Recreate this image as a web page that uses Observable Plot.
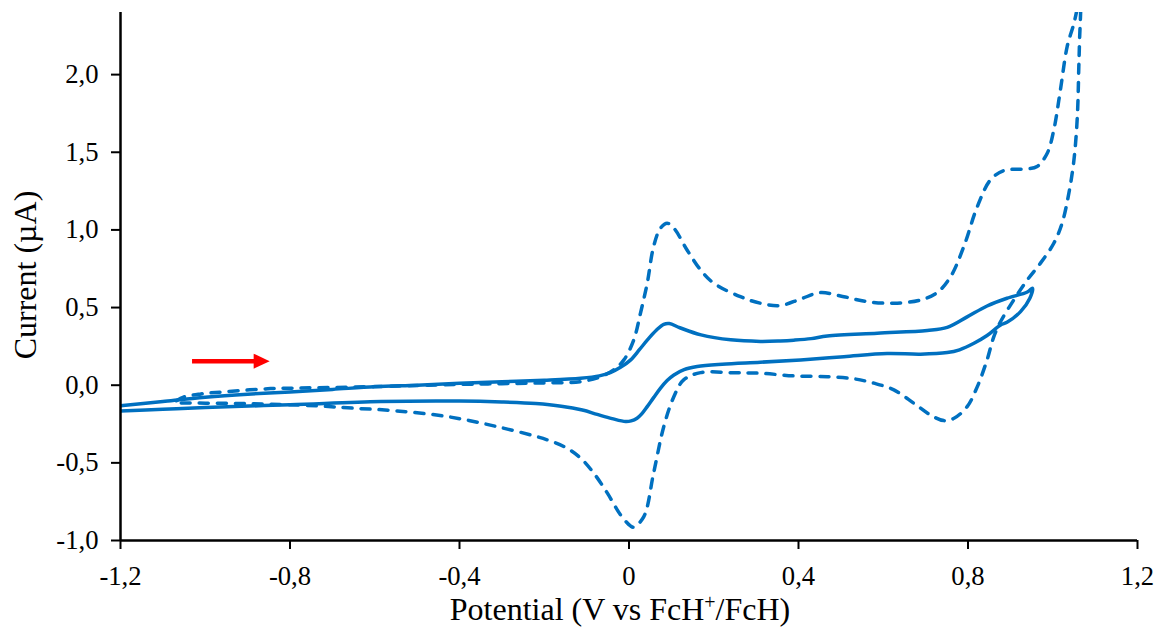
<!DOCTYPE html>
<html>
<head>
<meta charset="utf-8">
<script src="https://cdn.jsdelivr.net/npm/d3@7"></script>
<script src="https://cdn.jsdelivr.net/npm/@observablehq/plot@0.6"></script>
<style>
html, body { margin: 0; padding: 0; background: #ffffff; }
#chart { width: 1157px; height: 628px; }
</style>
</head>
<body>
<div id="chart"></div>
<script>
// ---- Data ----
// Solid CV (forward scan then reverse scan), potential in V vs FcH+/FcH, current in µA
const solidPotential = [
  -1.20, -1.10, -1.00, -0.90, -0.80, -0.70, -0.60, -0.50, -0.40, -0.30, -0.20, -0.114, -0.07, -0.044, -0.02,
  0.004, 0.025, 0.043, 0.065, 0.082, 0.095, 0.12, 0.17, 0.24, 0.31, 0.357, 0.389, 0.43, 0.468, 0.586, 0.704,
  0.751, 0.798, 0.845, 0.892, 0.94, 0.952,
  0.946, 0.924, 0.892, 0.877, 0.845, 0.814, 0.78, 0.751, 0.688, 0.609, 0.507, 0.405, 0.31, 0.22, 0.161, 0.13,
  0.106, 0.09, 0.074, 0.058, 0.043, 0.03, 0.019, 0.005, -0.008, -0.04, -0.075, -0.11, -0.16, -0.22, -0.30,
  -0.40, -0.586, -0.80, -1.00, -1.10, -1.20
];
const solidCurrent = [
  -0.133, -0.105, -0.078, -0.058, -0.043, -0.027, -0.010, 0.000, 0.012, 0.022, 0.032, 0.045, 0.060, 0.081, 0.115,
  0.163, 0.230, 0.290, 0.355, 0.392, 0.397, 0.370, 0.324, 0.292, 0.282, 0.285, 0.290, 0.300, 0.317, 0.335, 0.352,
  0.372, 0.440, 0.510, 0.560, 0.600, 0.625,
  0.560, 0.474, 0.405, 0.388, 0.320, 0.270, 0.228, 0.210, 0.200, 0.204, 0.184, 0.163, 0.148, 0.135, 0.120, 0.100,
  0.066, 0.030, -0.020, -0.080, -0.138, -0.185, -0.213, -0.230, -0.234, -0.215, -0.188, -0.160, -0.135, -0.118, -0.108,
  -0.102, -0.105, -0.126, -0.143, -0.155, -0.166
];

// Dashed CV (forward scan then reverse scan)
const dashedPotential = [
  -1.068, -1.05, -1.01, -0.948, -0.846, -0.775, -0.65, -0.539, -0.40, -0.30, -0.20, -0.114, -0.067, -0.036, -0.012,
  0.011, 0.027, 0.043, 0.058, 0.074, 0.09, 0.106, 0.137, 0.169, 0.20, 0.263, 0.31, 0.357, 0.405, 0.451, 0.507,
  0.562, 0.625, 0.688, 0.727, 0.759, 0.79, 0.822, 0.853, 0.885, 0.94, 0.963, 0.987, 1.0025, 1.018, 1.034, 1.05,
  1.065,
  1.063, 1.0615, 1.058, 1.05, 1.038, 1.022, 1.0025, 0.971, 0.94, 0.908, 0.877, 0.861, 0.845, 0.822, 0.798, 0.767,
  0.743, 0.711, 0.672, 0.625, 0.578, 0.531, 0.468, 0.389, 0.31, 0.25, 0.169, 0.129, 0.106, 0.082, 0.058, 0.035,
  0.011, 0.0035, -0.020, -0.051, -0.083, -0.114, -0.146, -0.193, -0.311, -0.429, -0.55, -0.65, -0.736, -0.846, -0.948, -1.07
];
const dashedCurrent = [
  -0.100, -0.075, -0.056, -0.041, -0.022, -0.018, -0.012, -0.005, 0.005, 0.010, 0.015, 0.023, 0.055, 0.099, 0.163,
  0.290, 0.463, 0.657, 0.892, 1.010, 1.043, 1.011, 0.871, 0.742, 0.657, 0.570, 0.528, 0.513, 0.555, 0.596, 0.570,
  0.538, 0.528, 0.549, 0.596, 0.699, 0.892, 1.150, 1.322, 1.382, 1.393, 1.408, 1.494, 1.644, 1.900, 2.180, 2.330,
  2.500,
  2.200, 2.050, 1.730, 1.450, 1.236, 1.043, 0.914, 0.786, 0.678, 0.549, 0.410, 0.313, 0.163, -0.009, -0.138, -0.213,
  -0.228, -0.191, -0.116, -0.030, 0.013, 0.041, 0.055, 0.060, 0.077, 0.080, 0.081, 0.034, -0.073, -0.267, -0.567, -0.846,
  -0.914, -0.906, -0.835, -0.695, -0.567, -0.470, -0.406, -0.352, -0.267, -0.202, -0.165, -0.148, -0.133, -0.122, -0.117, -0.114
];

// Scan-direction arrow (annotation)
const arrowStartPotential = [-1.03];
const arrowHeadBasePotential = [-0.866];
const arrowTipPotential = [-0.848];
const arrowCurrent = [0.155];

// Axes
const xTicks = [-1.2, -0.8, -0.4, 0, 0.4, 0.8, 1.2];
const xTickLabels = ["-1,2", "-0,8", "-0,4", "0", "0,4", "0,8", "1,2"];
const yTicks = [-1.0, -0.5, 0.0, 0.5, 1.0, 1.5, 2.0];
const yTickLabels = ["-1,0", "-0,5", "0,0", "0,5", "1,0", "1,5", "2,0"];
const xLabel = ["Potential (V vs FcH", "+", "/FcH)"];
const yLabel = "Current (µA)";

// ---- Chart ----
const blue = "#0070C0";
const arrowHead = {
  draw(context) {
    context.moveTo(0, 0);
    context.lineTo(-16, -7.5);
    context.lineTo(-16, 7.5);
    context.closePath();
  }
};

const chart = Plot.plot({
  width: 1157,
  height: 628,
  marginLeft: 120,
  marginRight: 20,
  marginTop: 12,
  marginBottom: 88,
  x: { domain: [-1.2, 1.2] },
  y: { domain: [-1.0, 2.4] },
  style: { fontFamily: "'Liberation Serif', 'Times New Roman', serif", background: "#ffffff", color: "#000000" },
  marks: [
    Plot.line(solidPotential, {
      x: solidPotential, y: solidCurrent,
      stroke: blue, strokeWidth: 3.5, curve: "catmull-rom", clip: true,
      strokeLinejoin: "round", strokeLinecap: "round"
    }),
    Plot.line(dashedPotential, {
      x: dashedPotential, y: dashedCurrent,
      stroke: blue, strokeWidth: 3.5, curve: "catmull-rom", clip: true,
      strokeDasharray: "9,9", strokeLinecap: "round", strokeLinejoin: "round"
    }),
    Plot.ruleY(arrowCurrent, {
      x1: arrowStartPotential, x2: arrowHeadBasePotential, y: arrowCurrent,
      stroke: "#FF0000", strokeWidth: 4.5
    }),
    Plot.dot(arrowCurrent, {
      x: arrowTipPotential, y: arrowCurrent,
      symbol: arrowHead, fill: "#FF0000", stroke: null
    }),
    Plot.ruleX([-1.2], { stroke: "#000000", strokeWidth: 2.5 }),
    Plot.ruleY([-1.0], { stroke: "#000000", strokeWidth: 2.5 }),
    Plot.axisX({
      ticks: xTicks,
      tickFormat: d => xTickLabels[xTicks.indexOf(d)],
      tickSize: 9, tickPadding: 17, strokeWidth: 2,
      fontSize: 26.67, label: null, stroke: "#000000", fill: "#000000"
    }),
    Plot.axisY({
      ticks: yTicks,
      tickFormat: d => yTickLabels[yTicks.indexOf(d)],
      tickSize: 9, tickPadding: 13, strokeWidth: 2,
      fontSize: 26.67, label: null, stroke: "#000000", fill: "#000000"
    })
  ]
});

document.getElementById("chart").appendChild(chart);

// Axis titles
const svg = d3.select(chart);
svg.append("text")
  .attr("transform", "translate(36,275) rotate(-90)")
  .attr("text-anchor", "middle")
  .attr("font-size", "32px")
  .attr("fill", "#000000")
  .text(yLabel);

const xt = svg.append("text")
  .attr("x", 620)
  .attr("y", 620)
  .attr("text-anchor", "middle")
  .attr("font-size", "32px")
  .attr("fill", "#000000");
xt.append("tspan").text(xLabel[0]);
xt.append("tspan").attr("baseline-shift", "super").attr("font-size", "20px").text(xLabel[1]);
xt.append("tspan").text(xLabel[2]);
</script>
</body>
</html>
